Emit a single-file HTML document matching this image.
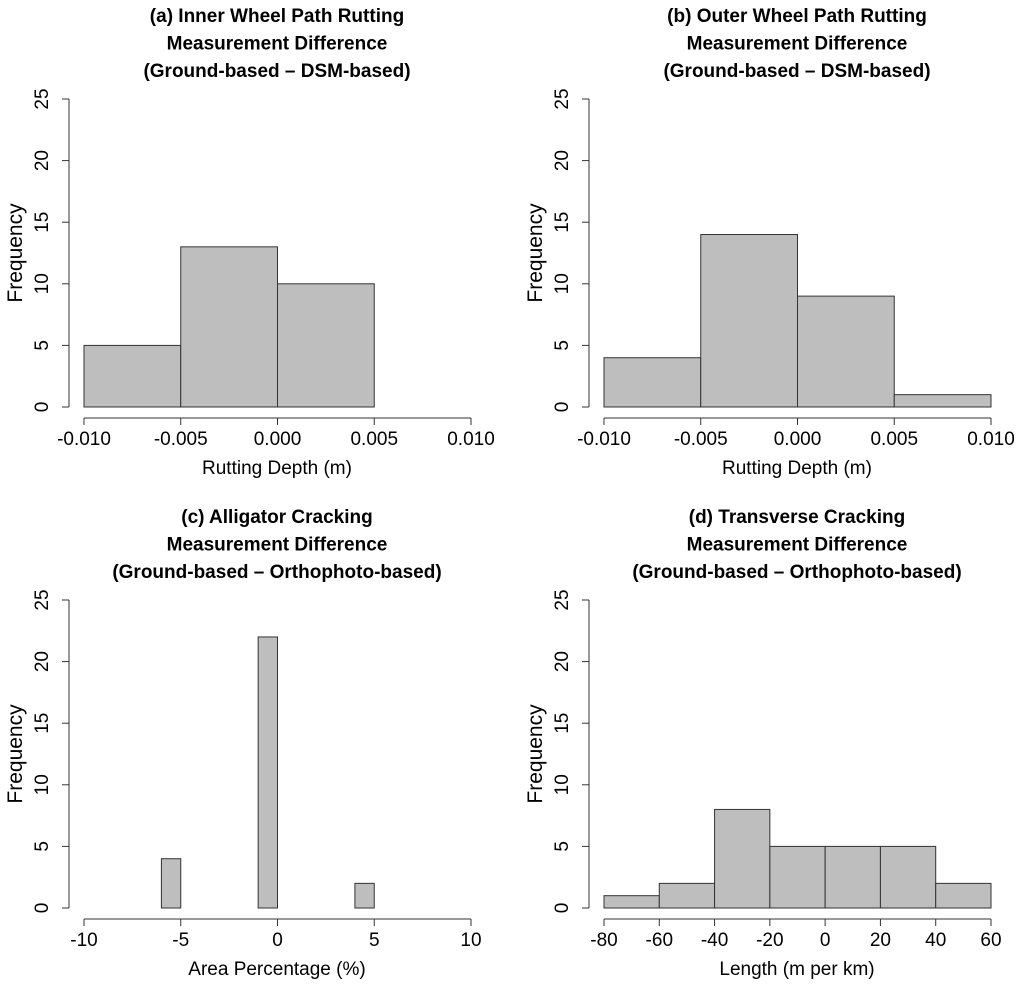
<!DOCTYPE html>
<html><head><meta charset="utf-8"><style>
body{margin:0;background:#fff;}
svg text{font-family:"Liberation Sans",Arial,sans-serif;fill:#000;}
</style></head><body>
<svg id="s" width="1024" height="988" xmlns="http://www.w3.org/2000/svg"></svg>
<script>
const titlesA=["(a) Inner Wheel Path Rutting","Measurement Difference","(Ground-based – DSM-based)"];
const titlesB=["(b) Outer Wheel Path Rutting","Measurement Difference","(Ground-based – DSM-based)"];
const titlesC=["(c) Alligator Cracking","Measurement  Difference","(Ground-based – Orthophoto-based)"];
const titlesD=["(d) Transverse Cracking","Measurement  Difference","(Ground-based – Orthophoto-based)"];
const breaksA=[-0.010,-0.005,0.000,0.005,0.010];
const countsA=[5,13,10,0];
const breaksB=[-0.010,-0.005,0.000,0.005,0.010];
const countsB=[4,14,9,1];
const breaksC=[-10,-9,-8,-7,-6,-5,-4,-3,-2,-1,0,1,2,3,4,5,6,7,8,9,10];
const countsC=[0,0,0,0,4,0,0,0,0,22,0,0,0,0,2,0,0,0,0,0];
const breaksD=[-80,-60,-40,-20,0,20,40,60];
const countsD=[1,2,8,5,5,5,2];
const xticksA=[-0.010,-0.005,0.000,0.005,0.010];
const xtickLabelsA=["-0.010","-0.005","0.000","0.005","0.010"];
const xticksC=[-10,-5,0,5,10];
const xtickLabelsC=["-10","-5","0","5","10"];
const xticksD=[-80,-60,-40,-20,0,20,40,60];
const xtickLabelsD=["-80","-60","-40","-20","0","20","40","60"];
const yticks=[0,5,10,15,20,25];

const svg=document.getElementById('s');
const NS='http://www.w3.org/2000/svg';
function mk(tag,attrs,parent){const e=document.createElementNS(NS,tag);for(const k in attrs)e.setAttribute(k,attrs[k]);parent.appendChild(e);return e;}

function panel(id,ox,oy,titles,breaks,counts,xticks,xlabels,xtitle){
  const g=mk('g',{},svg);
  
  
  const x0=ox+84,x1=ox+471,y0=oy+407,y25=oy+99;
  const xmin=xticks[0],xmax=xticks[xticks.length-1];
  const sx=v=>x0+(v-xmin)/(xmax-xmin)*(x1-x0);
  const sy=v=>y0-(v/25)*(y0-y25);
  titles.forEach((t,i)=>{
    const e=mk('text',{x:ox+277,y:oy+22+i*27.5,'text-anchor':'middle','font-size':'19','font-weight':'bold'},g);
    e.textContent=t;
    
    
  });
  for(let i=0;i<counts.length;i++){
    const xa=sx(breaks[i]),xb=sx(breaks[i+1]);
    const r=mk('rect',{x:xa,y:sy(counts[i]),width:xb-xa,height:sy(0)-sy(counts[i]),fill:'#bebebe',stroke:'#333','stroke-width':'1'},g);
    
    
  }
  const ya=mk('g',{},g);
  
  
  mk('line',{x1:ox+69,x2:ox+69,y1:sy(0),y2:sy(25),stroke:'#333'},ya);
  yticks.forEach(v=>{
    mk('line',{x1:ox+62,x2:ox+69,y1:sy(v),y2:sy(v),stroke:'#333'},ya);
    const t=mk('text',{x:0,y:0,'text-anchor':'middle','font-size':'19',transform:`translate(${ox+48},${sy(v)}) rotate(-90)`},ya);
    t.textContent=v;
  });
  const yt=mk('text',{'text-anchor':'middle','font-size':'21',transform:`translate(${ox+22},${(sy(0)+sy(25))/2}) rotate(-90)`},g);
  yt.textContent='Frequency';
  
  
  const xa=mk('g',{},g);
  
  
  mk('line',{x1:x0,x2:x1,y1:oy+418,y2:oy+418,stroke:'#333'},xa);
  xticks.forEach((v,i)=>{
    mk('line',{x1:sx(v),x2:sx(v),y1:oy+418,y2:oy+425,stroke:'#333'},xa);
    const t=mk('text',{x:sx(v),y:oy+445,'text-anchor':'middle','font-size':'19'},xa);
    t.textContent=xlabels[i];
  });
  const xt=mk('text',{x:ox+277,y:oy+474,'text-anchor':'middle','font-size':'19'},g);
  xt.textContent=xtitle;
  
  
}
panel('a',0,0,titlesA,breaksA,countsA,xticksA,xtickLabelsA,'Rutting Depth (m)');
panel('b',520,0,titlesB,breaksB,countsB,xticksA,xtickLabelsA,'Rutting Depth (m)');
panel('c',0,501,titlesC,breaksC,countsC,xticksC,xtickLabelsC,'Area Percentage (%)');
panel('d',520,501,titlesD,breaksD,countsD,xticksD,xtickLabelsD,'Length (m per km)');
</script>
</body></html>
